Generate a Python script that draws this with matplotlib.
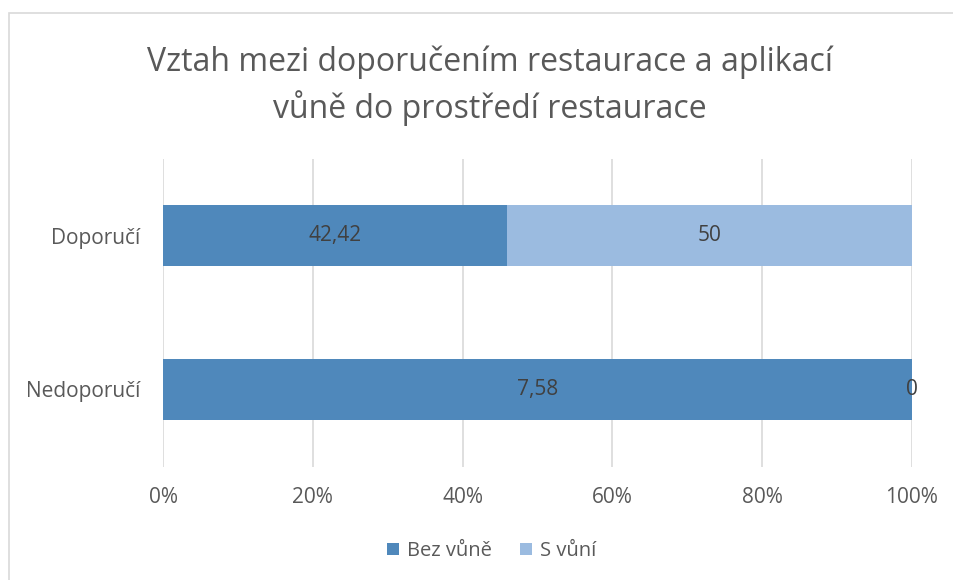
import matplotlib.pyplot as plt
from matplotlib.patches import Rectangle
from matplotlib.ticker import PercentFormatter

plt.rcParams['font.family'] = ['Open Sans', 'DejaVu Sans']

categories = ['Nedoporučí', 'Doporučí']
bez_vune = [7.58, 42.42]
s_vuni = [0, 50]
series_names = ['Bez vůně', 'S vůní']
title = 'Vztah mezi doporučením restaurace a aplikací\nvůně do prostředí restaurace'

c_dark = '#4F88BB'
c_light = '#9BBBE0'
txt = '#595959'

def fmt(v):
    return ('%g' % v).replace('.', ',')

tot = [a + b for a, b in zip(bez_vune, s_vuni)]
p1 = [a / t * 100 for a, t in zip(bez_vune, tot)]
p2 = [b / t * 100 for b, t in zip(s_vuni, tot)]

fig = plt.figure(figsize=(9.54, 5.8), dpi=100)
fig.patches.append(Rectangle((9 / 954, -0.01), 1.0, 1 - 13 / 580 + 0.01,
                             transform=fig.transFigure, fill=False,
                             edgecolor='#D9D9D9', linewidth=1.2))
ax = fig.add_axes([163 / 954, 1 - 466.5 / 580, 749 / 954, 308 / 580])

y = range(len(categories))
b1 = ax.barh(y, p1, height=0.4, color=c_dark, label=series_names[0])
b2 = ax.barh(y, p2, left=p1, height=0.4, color=c_light, label=series_names[1])

# popisky dat
for i in y:
    ax.text(p1[i] / 2, i, fmt(bez_vune[i]), ha='center', va='center',
            fontsize=15, color='#404040')
    ax.text(p1[i] + p2[i] / 2, i, fmt(s_vuni[i]), ha='center', va='center',
            fontsize=15, color='#404040')

ax.set_xlim(0, 100)
ax.set_ylim(-0.5, 1.5)
ax.set_xticks([0, 20, 40, 60, 80, 100])
ax.xaxis.set_major_formatter(PercentFormatter(decimals=0))
ax.set_yticks(list(y))
ax.set_yticklabels(categories)
ax.tick_params(axis='both', length=0, labelsize=15, labelcolor=txt)
ax.tick_params(axis='x', pad=15)
ax.tick_params(axis='y', pad=16.5)
ax.grid(axis='x', color='#D9D9D9', linewidth=1.2)
ax.set_axisbelow(True)
for s in ax.spines.values():
    s.set_visible(False)

fig.text(490 / 954, 1 - 86 / 580, title, ha='center', va='center', fontsize=23,
         color=txt, linespacing=1.4)
fig.legend(handles=[b1, b2], loc='center', bbox_to_anchor=(0.515, 1 - 551 / 580),
           ncol=2, frameon=False, fontsize=14.5, labelcolor=txt,
           handlelength=0.6, handleheight=0.6, handletextpad=0.4, columnspacing=1.4)

fig.savefig('out.png', dpi=100)
